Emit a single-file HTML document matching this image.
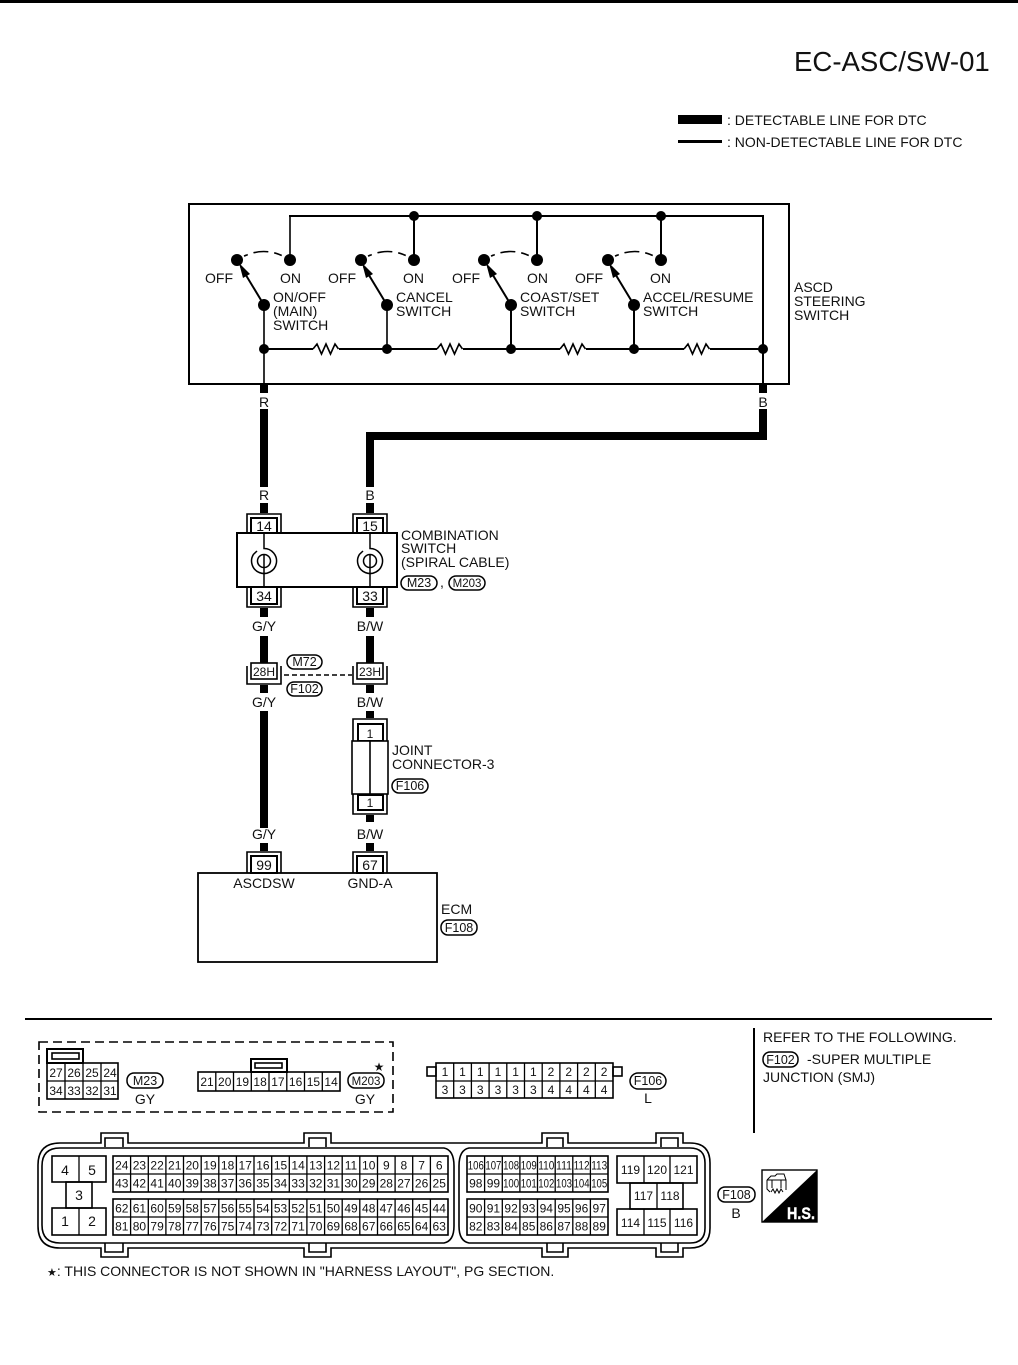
<!DOCTYPE html>
<html><head><meta charset="utf-8"><style>
html,body{margin:0;padding:0;background:#fff}
svg{display:block}
text{font-family:"Liberation Sans",sans-serif;font-size:14px;fill:#111}
.c{font-size:12px;text-anchor:middle}
.n{font-size:12px;text-anchor:middle}
.m{text-anchor:middle}
.p{font-size:12.5px;text-anchor:middle}
.l{fill:none;stroke:#000;stroke-width:1.6}
.t{fill:none;stroke:#000;stroke-width:2}
.g{fill:none;stroke:#000;stroke-width:1.3}
.b{fill:#fff;stroke:#000;stroke-width:2}
.h{fill:none;stroke:#000;stroke-width:8}
.pill{fill:#fff;stroke:#000;stroke-width:1.5}
</style></head><body>
<svg width="1018" height="1365" viewBox="0 0 1018 1365" xmlns="http://www.w3.org/2000/svg">
<rect x="0" y="0" width="1018" height="3" fill="#000"/>
<text x="794" y="71" style="font-size:27.6px">EC-ASC/SW-01</text>
<rect x="678" y="115" width="44" height="9" fill="#000"/>
<rect x="678" y="140" width="44" height="3" fill="#000"/>
<text x="727" y="125" style="font-size:14px">: DETECTABLE LINE FOR DTC</text>
<text x="727" y="147" style="font-size:14px">: NON-DETECTABLE LINE FOR DTC</text>

<!-- steering switch box -->
<rect x="189" y="204" width="600" height="180" class="t"/>
<path class="l" d="M290 260V216"/>
<path class="t" d="M289 216H763V384M414 216V260M537 216V260M661 216V260"/>
<path class="l" d="M264 305V384M387 305V349"/>
<path class="t" d="M511 305V349M634 305V349"/>
<path class="t" d="M264 349H313M339 349H437M463 349H560M586 349H684M710 349H763"/>
<path class="l" d="M313 349l4-5 4.500 10 4.500-10 4.500 10 4.500-10 3.500 5M437 349l4-5 4.500 10 4.500-10 4.500 10 4.500-10 3.500 5M560 349l4-5 4.500 10 4.500-10 4.500 10 4.500-10 3.500 5M684 349l4-5 4.500 10 4.500-10 4.500 10 4.500-10 3.500 5"/>
<path class="l" stroke-dasharray="0 8 4 6 15 6 8 100" d="M237 260Q264 243 290 260M361 260Q388 243 414 260M484 260Q511 243 537 260M608 260Q635 243 661 260"/>
<path class="t" d="M264 305L241 267M387 305L364 267M511 305L488 267M634 305L611 267"/>
<g fill="#000">
<path d="M239 263l11 11-7 4zM362 263l11 11-7 4zM486 263l11 11-7 4zM609 263l11 11-7 4z"/>
<circle cx="414" cy="216" r="5"/><circle cx="537" cy="216" r="5"/><circle cx="661" cy="216" r="5"/>
<circle cx="237" cy="260" r="6"/><circle cx="361" cy="260" r="6"/><circle cx="484" cy="260" r="6"/><circle cx="608" cy="260" r="6"/>
<circle cx="290" cy="260" r="6"/><circle cx="414" cy="260" r="6"/><circle cx="537" cy="260" r="6"/><circle cx="661" cy="260" r="6"/>
<circle cx="264" cy="305" r="6"/><circle cx="387" cy="305" r="6"/><circle cx="511" cy="305" r="6"/><circle cx="634" cy="305" r="6"/>
<circle cx="264" cy="349" r="5"/><circle cx="387" cy="349" r="5"/><circle cx="511" cy="349" r="5"/><circle cx="634" cy="349" r="5"/><circle cx="763" cy="349" r="5"/>
</g>
<text x="205" y="283">OFF</text><text x="280" y="283">ON</text>
<text x="328" y="283">OFF</text><text x="403" y="283">ON</text>
<text x="452" y="283">OFF</text><text x="527" y="283">ON</text>
<text x="575" y="283">OFF</text><text x="650" y="283">ON</text>
<text x="273" y="302">ON/OFF</text><text x="273" y="316">(MAIN)</text><text x="273" y="330">SWITCH</text>
<text x="396" y="302">CANCEL</text><text x="396" y="316">SWITCH</text>
<text x="520" y="302">COAST/SET</text><text x="520" y="316">SWITCH</text>
<text x="643" y="302">ACCEL/RESUME</text><text x="643" y="316">SWITCH</text>
<text x="794" y="292">ASCD</text><text x="794" y="306">STEERING</text><text x="794" y="320">SWITCH</text>

<!-- wires -->
<path class="h" d="M264 384V393M763 384V393M264 409V487M763 409V436H370V487M264 503V513M370 503V513M264 608V617M370 608V617M264 636V663M370 636V663M264 685V693M370 685V693M264 711V828M370 711V718M370 815V822M264 843V851M370 843V851"/>
<g class="m">
<text x="264" y="407">R</text><text x="763" y="407">B</text>
<text x="264" y="500">R</text><text x="370" y="500">B</text>
<text x="264" y="631">G/Y</text><text x="370" y="631">B/W</text>
<text x="264" y="707">G/Y</text><text x="370" y="707">B/W</text>
<text x="264" y="839">G/Y</text><text x="370" y="839">B/W</text>
</g>

<!-- combination switch connectors -->
<path class="l" d="M247 533V514H281V533M353 533V514H387V533M247 587V607H281V587M353 587V607H387V587"/>
<rect x="251" y="518" width="26" height="15" class="b"/><rect x="357" y="518" width="26" height="15" class="b"/>
<rect x="251" y="587" width="26" height="17" class="b"/><rect x="357" y="587" width="26" height="17" class="b"/>
<rect x="237" y="533" width="160" height="54" class="b"/>
<text x="264" y="531" class="m">14</text><text x="370" y="531" class="m">15</text>
<text x="264" y="601" class="m">34</text><text x="370" y="601" class="m">33</text>
<g fill="none" stroke="#000" stroke-width="1.5">
<path d="M264 533V548.500A12.500 12.500 0 1 1 253.500 554.300L257 551"/><circle cx="264" cy="561" r="6.500"/><path d="M264 554V587"/>
<path d="M370 533V548.500A12.500 12.500 0 1 1 359.500 554.300L363 551"/><circle cx="370" cy="561" r="6.500"/><path d="M370 554V587"/>
</g>
<text x="401" y="540">COMBINATION</text><text x="401" y="553">SWITCH</text><text x="401" y="567">(SPIRAL CABLE)</text>
<rect x="401" y="576" width="36" height="14" rx="7" class="pill"/><text x="419" y="587" class="p">M23</text>
<text x="440" y="587">,</text>
<rect x="449" y="576" width="36" height="14" rx="7" class="pill"/><text x="467" y="587" class="p" style="font-size:11.5px">M203</text>

<!-- 28H/23H -->
<path class="l" d="M247 666V684H281V666M353 666V684H387V666"/>
<rect x="251" y="663" width="26" height="16" class="b" style="stroke-width:1.600"/>
<rect x="357" y="663" width="26" height="16" class="b" style="stroke-width:1.600"/>
<text x="264" y="676" class="c">28H</text><text x="370" y="676" class="c">23H</text>
<path class="l" stroke-dasharray="5 3" d="M284 675H352"/>
<rect x="287" y="655" width="35" height="14" rx="7" class="pill"/><text x="304.500" y="666" class="p">M72</text>
<rect x="287" y="682" width="35" height="14" rx="7" class="pill"/><text x="304.500" y="693" class="p">F102</text>

<!-- joint connector -->
<path class="l" d="M353 741V719H387V741M353 794V814H387V794"/>
<rect x="358" y="724" width="25" height="17" class="b"/>
<rect x="358" y="795" width="25" height="15" class="b"/>
<rect x="352" y="741" width="36" height="53" class="b" style="stroke-width:1.600"/>
<path class="l" d="M370 741V794"/>
<text x="370" y="738" class="c">1</text><text x="370" y="807" class="c">1</text>
<text x="392" y="755">JOINT</text><text x="392" y="769">CONNECTOR-3</text>
<rect x="392" y="779" width="36" height="14" rx="7" class="pill"/><text x="410" y="790" class="p">F106</text>

<!-- ECM -->
<path class="l" d="M247 873V852H281V873M353 873V852H387V873"/>
<rect x="251" y="856" width="26" height="17" class="b"/><rect x="357" y="856" width="26" height="17" class="b"/>
<text x="264" y="870" class="m">99</text><text x="370" y="870" class="m">67</text>
<rect x="198" y="873" width="239" height="89" class="l" style="stroke-width:1.800"/>
<text x="264" y="888" class="m">ASCDSW</text><text x="370" y="888" class="m">GND-A</text>
<text x="441" y="914">ECM</text>
<rect x="441" y="920" width="36" height="15" rx="7" class="pill"/><text x="459" y="932" class="p">F108</text>

<!-- separators -->
<rect x="25" y="1018" width="967" height="2" fill="#000"/>
<rect x="753" y="1028" width="2" height="105" fill="#000"/>
<text x="763" y="1042">REFER TO THE FOLLOWING.</text>
<rect x="763" y="1052" width="35" height="15" rx="7" class="pill"/><text x="780.500" y="1064" class="p">F102</text>
<text x="807" y="1064">-SUPER MULTIPLE</text>
<text x="763" y="1082">JUNCTION (SMJ)</text>

<!-- dashed box -->
<rect x="39" y="1042" width="354" height="70" fill="none" stroke="#000" stroke-width="1.6" stroke-dasharray="9 5"/>

<!-- M23 -->
<rect x="47" y="1049" width="36" height="14" class="l" style="stroke-width:2"/>
<rect x="52" y="1053" width="27" height="6" class="l"/>
<rect x="47" y="1063" width="71" height="36" class="l"/>
<path class="g" d="M47 1081H118M65 1063V1099M83 1063V1099M101 1063V1099"/>
<text x="56" y="1077" class="c">27</text><text x="74" y="1077" class="c">26</text><text x="92" y="1077" class="c">25</text><text x="110" y="1077" class="c">24</text>
<text x="56" y="1095" class="c">34</text><text x="74" y="1095" class="c">33</text><text x="92" y="1095" class="c">32</text><text x="110" y="1095" class="c">31</text>
<rect x="127" y="1073" width="36" height="15" rx="7" class="pill"/><text x="145" y="1085" class="p">M23</text>
<text x="145" y="1104" class="m">GY</text>

<!-- M203 -->
<rect x="251" y="1059" width="36" height="13" class="l" style="stroke-width:2"/>
<rect x="255" y="1063" width="27" height="5" class="l"/>
<rect x="198" y="1072" width="142" height="19" class="l"/>
<path class="g" d="M215.800 1072V1091M233.500 1072V1091M251.300 1072V1091M269 1072V1091M286.800 1072V1091M304.500 1072V1091M322.300 1072V1091"/>
<text x="207" y="1086" class="c">21</text><text x="224.700" y="1086" class="c">20</text><text x="242.400" y="1086" class="c">19</text><text x="260.100" y="1086" class="c">18</text><text x="277.900" y="1086" class="c">17</text><text x="295.600" y="1086" class="c">16</text><text x="313.400" y="1086" class="c">15</text><text x="331.100" y="1086" class="c">14</text>
<rect x="348" y="1073" width="36" height="15" rx="7" class="pill"/><text x="366" y="1085" class="p" style="font-size:11.5px">M203</text>
<text x="365" y="1104" class="m">GY</text>
<text x="379" y="1071" class="m" style="font-size:12px;font-family:'DejaVu Sans',sans-serif">★</text>

<!-- F106 connector -->
<rect x="427" y="1067" width="9" height="9" class="l"/><rect x="613" y="1067" width="9" height="9" class="l"/>
<rect x="436" y="1063" width="177" height="35" class="l"/>
<path class="g" d="M436 1081H613M453.700 1063V1098M471.400 1063V1098M489.100 1063V1098M506.800 1063V1098M524.500 1063V1098M542.200 1063V1098M559.900 1063V1098M577.600 1063V1098M595.300 1063V1098"/>
<text x="445" y="1076" class="c">1</text><text x="462.500" y="1076" class="c">1</text><text x="480.200" y="1076" class="c">1</text><text x="498" y="1076" class="c">1</text><text x="515.600" y="1076" class="c">1</text><text x="533.300" y="1076" class="c">1</text><text x="551" y="1076" class="c">2</text><text x="568.700" y="1076" class="c">2</text><text x="586.400" y="1076" class="c">2</text><text x="604.100" y="1076" class="c">2</text>
<text x="445" y="1094" class="c">3</text><text x="462.500" y="1094" class="c">3</text><text x="480.200" y="1094" class="c">3</text><text x="498" y="1094" class="c">3</text><text x="515.600" y="1094" class="c">3</text><text x="533.300" y="1094" class="c">3</text><text x="551" y="1094" class="c">4</text><text x="568.700" y="1094" class="c">4</text><text x="586.400" y="1094" class="c">4</text><text x="604.100" y="1094" class="c">4</text>
<rect x="630" y="1073" width="36" height="16" rx="8" class="pill"/><text x="648" y="1085" class="p">F106</text>
<text x="648" y="1103" class="m">L</text>

<!-- ECM connector housing -->
<path class="l" d="M60 1143H101V1133H128V1143H304V1133H331V1143H542V1133H568V1143H656V1133H683V1143H690Q710 1143 710 1163V1228Q710 1248 690 1248H683V1257H656V1248H568V1257H542V1248H331V1257H304V1248H128V1257H101V1248H60Q38 1248 38 1226V1165Q38 1143 60 1143Z"/>
<path class="l" d="M105 1147V1138H123V1147M309 1147V1138H326V1147M547 1147V1138H563V1147M661 1147V1138H678V1147"/>
<path class="l" d="M105 1243V1252H123V1243M309 1243V1252H326V1243M547 1243V1252H563V1243M661 1243V1252H678V1243"/>
<path class="l" d="M60 1148H444Q454 1150 454 1166V1226Q454 1241 444 1243H60Q42 1243 42 1225V1166Q42 1148 60 1148ZM469 1148H690Q705 1148 705 1163V1228Q705 1243 690 1243H469Q459 1241 459 1226V1166Q459 1150 469 1148Z"/>

<!-- left power block -->
<rect x="52" y="1156" width="54" height="26" class="l"/><path class="g" d="M79 1156V1182"/>
<rect x="66" y="1182" width="26" height="26" class="l"/>
<rect x="52" y="1208" width="54" height="27" class="l"/><path class="g" d="M79 1208V1235"/>
<text x="65" y="1175" class="m">4</text><text x="92" y="1175" class="m">5</text><text x="79" y="1200" class="m">3</text><text x="65" y="1226" class="m">1</text><text x="92" y="1226" class="m">2</text>

<!-- main grids -->
<defs><path id="v1" d="M130.600 0V36M148.300 0V36M165.900 0V36M183.500 0V36M201.200 0V36M218.800 0V36M236.400 0V36M254 0V36M271.700 0V36M289.300 0V36M306.900 0V36M324.600 0V36M342.200 0V36M359.800 0V36M377.500 0V36M395.100 0V36M412.700 0V36M430.400 0V36M113 18H448"/>
<path id="v2" d="M484.600 0V36M502.300 0V36M519.900 0V36M537.500 0V36M555.200 0V36M572.800 0V36M590.400 0V36M467 18H608"/></defs>
<rect x="113" y="1156" width="335" height="36" class="l"/><use href="#v1" y="1156" class="g"/>
<rect x="113" y="1199" width="335" height="36" class="l"/><use href="#v1" y="1199" class="g"/>
<rect x="467" y="1156" width="141" height="36" class="l"/><use href="#v2" y="1156" class="g"/>
<rect x="467" y="1199" width="141" height="36" class="l"/><use href="#v2" y="1199" class="g"/>

<text x="121.800" y="1169.500" class="c">24</text><text x="139.400" y="1169.500" class="c">23</text><text x="157.100" y="1169.500" class="c">22</text><text x="174.700" y="1169.500" class="c">21</text><text x="192.300" y="1169.500" class="c">20</text><text x="210" y="1169.500" class="c">19</text><text x="227.600" y="1169.500" class="c">18</text><text x="245.200" y="1169.500" class="c">17</text><text x="262.900" y="1169.500" class="c">16</text><text x="280.500" y="1169.500" class="c">15</text><text x="298.100" y="1169.500" class="c">14</text><text x="315.800" y="1169.500" class="c">13</text><text x="333.400" y="1169.500" class="c">12</text><text x="351" y="1169.500" class="c">11</text><text x="368.700" y="1169.500" class="c">10</text><text x="386.300" y="1169.500" class="c">9</text><text x="403.900" y="1169.500" class="c">8</text><text x="421.600" y="1169.500" class="c">7</text><text x="439.200" y="1169.500" class="c">6</text>
<text x="121.800" y="1187.500" class="c">43</text><text x="139.400" y="1187.500" class="c">42</text><text x="157.100" y="1187.500" class="c">41</text><text x="174.700" y="1187.500" class="c">40</text><text x="192.300" y="1187.500" class="c">39</text><text x="210" y="1187.500" class="c">38</text><text x="227.600" y="1187.500" class="c">37</text><text x="245.200" y="1187.500" class="c">36</text><text x="262.900" y="1187.500" class="c">35</text><text x="280.500" y="1187.500" class="c">34</text><text x="298.100" y="1187.500" class="c">33</text><text x="315.800" y="1187.500" class="c">32</text><text x="333.400" y="1187.500" class="c">31</text><text x="351" y="1187.500" class="c">30</text><text x="368.700" y="1187.500" class="c">29</text><text x="386.300" y="1187.500" class="c">28</text><text x="403.900" y="1187.500" class="c">27</text><text x="421.600" y="1187.500" class="c">26</text><text x="439.200" y="1187.500" class="c">25</text>
<text x="121.800" y="1212.500" class="c">62</text><text x="139.400" y="1212.500" class="c">61</text><text x="157.100" y="1212.500" class="c">60</text><text x="174.700" y="1212.500" class="c">59</text><text x="192.300" y="1212.500" class="c">58</text><text x="210" y="1212.500" class="c">57</text><text x="227.600" y="1212.500" class="c">56</text><text x="245.200" y="1212.500" class="c">55</text><text x="262.900" y="1212.500" class="c">54</text><text x="280.500" y="1212.500" class="c">53</text><text x="298.100" y="1212.500" class="c">52</text><text x="315.800" y="1212.500" class="c">51</text><text x="333.400" y="1212.500" class="c">50</text><text x="351" y="1212.500" class="c">49</text><text x="368.700" y="1212.500" class="c">48</text><text x="386.300" y="1212.500" class="c">47</text><text x="403.900" y="1212.500" class="c">46</text><text x="421.600" y="1212.500" class="c">45</text><text x="439.200" y="1212.500" class="c">44</text>
<text x="121.800" y="1230.500" class="c">81</text><text x="139.400" y="1230.500" class="c">80</text><text x="157.100" y="1230.500" class="c">79</text><text x="174.700" y="1230.500" class="c">78</text><text x="192.300" y="1230.500" class="c">77</text><text x="210" y="1230.500" class="c">76</text><text x="227.600" y="1230.500" class="c">75</text><text x="245.200" y="1230.500" class="c">74</text><text x="262.900" y="1230.500" class="c">73</text><text x="280.500" y="1230.500" class="c">72</text><text x="298.100" y="1230.500" class="c">71</text><text x="315.800" y="1230.500" class="c">70</text><text x="333.400" y="1230.500" class="c">69</text><text x="351" y="1230.500" class="c">68</text><text x="368.700" y="1230.500" class="c">67</text><text x="386.300" y="1230.500" class="c">66</text><text x="403.900" y="1230.500" class="c">65</text><text x="421.600" y="1230.500" class="c">64</text><text x="439.200" y="1230.500" class="c">63</text>

<text x="475.800" y="1169.500" class="n" textLength="16" lengthAdjust="spacingAndGlyphs">106</text><text x="493.400" y="1169.500" class="n" textLength="16" lengthAdjust="spacingAndGlyphs">107</text><text x="511.100" y="1169.500" class="n" textLength="16" lengthAdjust="spacingAndGlyphs">108</text><text x="528.700" y="1169.500" class="n" textLength="16" lengthAdjust="spacingAndGlyphs">109</text><text x="546.300" y="1169.500" class="n" textLength="16" lengthAdjust="spacingAndGlyphs">110</text><text x="564" y="1169.500" class="n" textLength="16" lengthAdjust="spacingAndGlyphs">111</text><text x="581.600" y="1169.500" class="n" textLength="16" lengthAdjust="spacingAndGlyphs">112</text><text x="599.200" y="1169.500" class="n" textLength="16" lengthAdjust="spacingAndGlyphs">113</text>
<text x="475.800" y="1187.500" class="c">98</text><text x="493.400" y="1187.500" class="c">99</text><text x="511.100" y="1187.500" class="n" textLength="16" lengthAdjust="spacingAndGlyphs">100</text><text x="528.700" y="1187.500" class="n" textLength="16" lengthAdjust="spacingAndGlyphs">101</text><text x="546.300" y="1187.500" class="n" textLength="16" lengthAdjust="spacingAndGlyphs">102</text><text x="564" y="1187.500" class="n" textLength="16" lengthAdjust="spacingAndGlyphs">103</text><text x="581.600" y="1187.500" class="n" textLength="16" lengthAdjust="spacingAndGlyphs">104</text><text x="599.200" y="1187.500" class="n" textLength="16" lengthAdjust="spacingAndGlyphs">105</text>
<text x="475.800" y="1212.500" class="c">90</text><text x="493.400" y="1212.500" class="c">91</text><text x="511.100" y="1212.500" class="c">92</text><text x="528.700" y="1212.500" class="c">93</text><text x="546.300" y="1212.500" class="c">94</text><text x="564" y="1212.500" class="c">95</text><text x="581.600" y="1212.500" class="c">96</text><text x="599.200" y="1212.500" class="c">97</text>
<text x="475.800" y="1230.500" class="c">82</text><text x="493.400" y="1230.500" class="c">83</text><text x="511.100" y="1230.500" class="c">84</text><text x="528.700" y="1230.500" class="c">85</text><text x="546.300" y="1230.500" class="c">86</text><text x="564" y="1230.500" class="c">87</text><text x="581.600" y="1230.500" class="c">88</text><text x="599.200" y="1230.500" class="c">89</text>

<!-- right power block -->
<rect x="617" y="1156" width="80" height="27" class="l"/><path class="g" d="M644 1156V1183M670 1156V1183"/>
<rect x="630" y="1183" width="53" height="26" class="l"/><path class="g" d="M657 1183V1209"/>
<rect x="617" y="1209" width="80" height="26" class="l"/><path class="g" d="M644 1209V1235M670 1209V1235"/>
<text x="630.500" y="1174" class="c">119</text><text x="657" y="1174" class="c">120</text><text x="683.500" y="1174" class="c">121</text>
<text x="643.500" y="1200" class="c">117</text><text x="670" y="1200" class="c">118</text>
<text x="630.500" y="1227" class="c">114</text><text x="657" y="1227" class="c">115</text><text x="683.500" y="1227" class="c">116</text>

<rect x="718" y="1187" width="37" height="15" rx="7" class="pill"/><text x="736.500" y="1199" class="p">F108</text>
<text x="736" y="1218" class="m">B</text>

<!-- H.S. icon -->
<rect x="762" y="1170" width="55" height="52" fill="#fff" stroke="#000" stroke-width="1.400"/>
<path d="M817 1170V1222H762Z" fill="#000"/>
<path fill="none" stroke="#000" stroke-width="1" d="M767 1180h19v10M767 1180v9l3 3M767 1180l4-4h4l2-2h7l2 6M771 1192l2-3 2 4 2-4 2 4 2-4 2 3M772 1180v8M781 1180v8"/>
<text x="787" y="1219" style="font-size:17px;font-weight:bold;fill:#fff;stroke:#fff;stroke-width:.4" textLength="28" lengthAdjust="spacingAndGlyphs">H.S.</text>

<text x="47" y="1276" style="font-size:14px"><tspan style="font-family:'DejaVu Sans',sans-serif;font-size:11px">★</tspan>: THIS CONNECTOR IS NOT SHOWN IN "HARNESS LAYOUT", PG SECTION.</text>
</svg>
</body></html>
